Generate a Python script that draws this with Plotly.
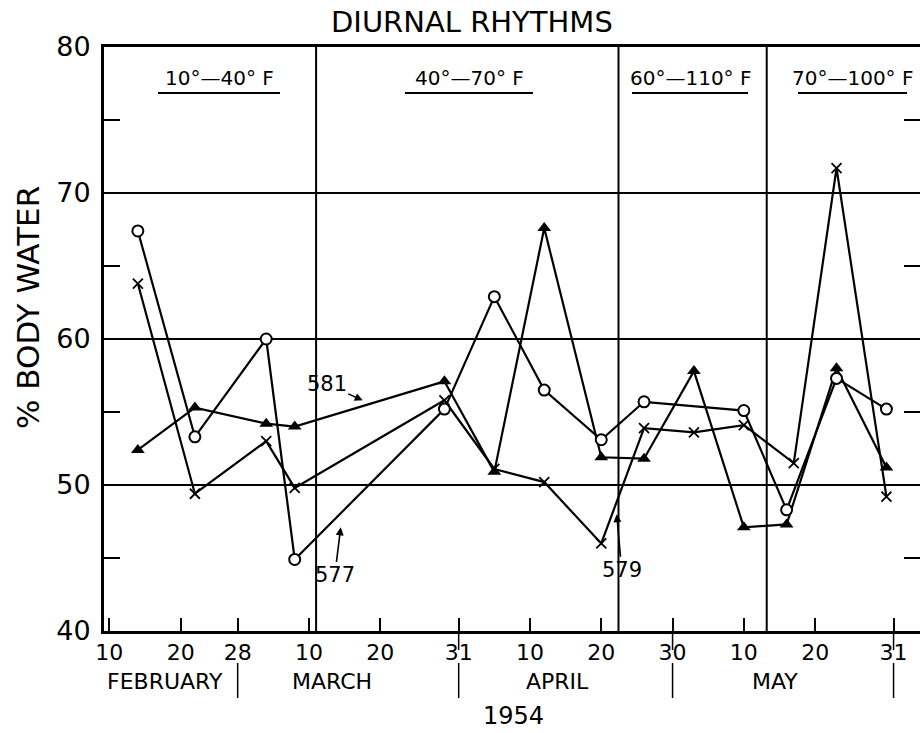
import plotly.graph_objects as go

FONT = "DejaVu Sans"
INK = "black"

# ---- data: % body water per animal, by sampling date (1954) ----
dates_577 = ["1954-02-14", "1954-02-22", "1954-03-04", "1954-03-08", "1954-03-29",
             "1954-04-05", "1954-04-12", "1954-04-20", "1954-04-26", "1954-05-10",
             "1954-05-16", "1954-05-23", "1954-05-30"]
water_577 = [67.4, 53.3, 60.0, 44.9, 55.2, 62.9, 56.5, 53.1, 55.7, 55.1, 48.3, 57.3, 55.2]

dates_581 = ["1954-02-14", "1954-02-22", "1954-03-04", "1954-03-08", "1954-03-29",
             "1954-04-05", "1954-04-12", "1954-04-20", "1954-04-26", "1954-05-03",
             "1954-05-10", "1954-05-16", "1954-05-23", "1954-05-30"]
water_581 = [52.4, 55.3, 54.2, 54.0, 57.1, 50.9, 67.6, 51.9, 51.8, 57.8, 47.1, 47.3, 58.0, 51.2]

dates_579 = ["1954-02-14", "1954-02-22", "1954-03-04", "1954-03-08", "1954-03-29",
             "1954-04-05", "1954-04-12", "1954-04-20", "1954-04-26", "1954-05-03",
             "1954-05-10", "1954-05-17", "1954-05-23", "1954-05-30"]
water_579 = [63.8, 49.4, 53.0, 49.8, 55.8, 51.1, 50.2, 46.0, 53.9, 53.6, 54.1, 51.5, 71.7, 49.2]

# ---- axis ticks ----
x_tick_dates = ["1954-02-10", "1954-02-20", "1954-02-28", "1954-03-10", "1954-03-20",
                "1954-03-31", "1954-04-10", "1954-04-20", "1954-04-30", "1954-05-10",
                "1954-05-20", "1954-05-31"]
x_tick_text = ["10", "20", "28", "10", "20", "31", "10", "20", "30", "10", "20", "31"]
month_ends = ["1954-02-28", "1954-03-31", "1954-04-30", "1954-05-31"]
months = ["FEBRUARY", "MARCH", "APRIL", "MAY"]
y_ticks = [40, 50, 60, 70, 80]
y_minor = [45, 55, 65, 75]

# temperature regimes
period_bounds = ["1954-03-11", "1954-04-22 10:00", "1954-05-13 05:00"]
period_labels = ["10°—40° F", "40°—70° F", "60°—110° F", "70°—100° F"]

W, H = 920, 733
L, R, T, B = 104, 0, 47, 102
PW, PH = W - L - R, H - T - B


def px(x):
    return (x - L) / PW


def py(y):
    return (H - B - y) / PH


fig = go.Figure()

line = dict(color=INK, width=2.2)
fig.add_trace(go.Scatter(x=dates_579, y=water_579, mode="lines+markers", line=line,
                         marker=dict(symbol="x-thin-open", size=10,
                                     line=dict(color=INK, width=1.8)),
                         name="579"))
fig.add_trace(go.Scatter(x=dates_581, y=water_581, mode="lines+markers", line=line,
                         marker=dict(symbol="triangle-up", size=12, color=INK),
                         name="581"))
fig.add_trace(go.Scatter(x=dates_577, y=water_577, mode="lines+markers", line=line,
                         marker=dict(symbol="circle", size=11, color="white",
                                     line=dict(color=INK, width=2)),
                         name="577"))

shapes = []
# regime boundaries
for d in period_bounds:
    shapes.append(dict(type="line", xref="x", yref="paper", x0=d, x1=d, y0=0, y1=1,
                       line=dict(color=INK, width=2)))
# month separators under the date labels
for d in month_ends:
    shapes.append(dict(type="line", xref="x", yref="paper", x0=d, x1=d,
                       y0=py(663), y1=py(698), line=dict(color=INK, width=1.5)))
for d in ["1954-03-31", "1954-04-30", "1954-05-31"]:
    shapes.append(dict(type="line", xref="x", yref="paper", x0=d, x1=d,
                       y0=py(631), y1=py(650), line=dict(color=INK, width=1.5)))
# minor ticks on the right-hand frame
for v in y_minor:
    shapes.append(dict(type="line", xref="paper", yref="y", x0=px(904), x1=1.0,
                       y0=v, y1=v, line=dict(color=INK, width=2)))
# underlines of the regime labels
underlines = [(158, 280), (405, 533), (632, 748), (798, 907)]
for a, b in underlines:
    shapes.append(dict(type="line", xref="paper", yref="paper", x0=px(a), x1=px(b),
                       y0=py(93), y1=py(93), line=dict(color=INK, width=2)))

annotations = []
label_centers = [219, 469, 690, 852]
for cx, txt in zip(label_centers, period_labels):
    annotations.append(dict(text=txt, xref="paper", yref="paper", x=px(cx), y=py(78),
                            showarrow=False, xanchor="center", yanchor="middle",
                            font=dict(family=FONT, size=20, color=INK)))

month_centers = [165, 332, 557, 775]
for cx, m in zip(month_centers, months):
    annotations.append(dict(text=m, xref="paper", yref="paper", x=px(cx), y=py(681),
                            showarrow=False, xanchor="center", yanchor="middle",
                            font=dict(family=FONT, size=22, color=INK)))

annotations.append(dict(text="1954", xref="paper", yref="paper", x=px(513), y=py(716),
                        showarrow=False, xanchor="center", yanchor="middle",
                        font=dict(family=FONT, size=24, color=INK)))
annotations.append(dict(text="DIURNAL RHYTHMS", xref="paper", yref="paper", x=px(472),
                        y=py(22), showarrow=False, xanchor="center", yanchor="middle",
                        font=dict(family=FONT, size=29, color=INK)))
annotations.append(dict(text="% BODY WATER", xref="paper", yref="paper", x=px(28),
                        y=py(308), showarrow=False, textangle=-90, xanchor="center",
                        yanchor="middle", font=dict(family=FONT, size=31, color=INK)))

# animal identifiers with pointers
arrow_font = dict(family=FONT, size=21, color=INK)
annotations.append(dict(text="581", x="1954-03-17 13:00", y=55.8, ax=-36, ay=-16,
                        showarrow=True, arrowhead=2, arrowsize=1, arrowwidth=1.6,
                        arrowcolor=INK, font=arrow_font))
annotations.append(dict(text="577", x="1954-03-14 11:00", y=47.1, ax=-6, ay=48,
                        showarrow=True, arrowhead=2, arrowsize=1, arrowwidth=1.6,
                        arrowcolor=INK, font=arrow_font))
annotations.append(dict(text="579", x="1954-04-22 04:00", y=48.0, ax=5, ay=56,
                        showarrow=True, arrowhead=2, arrowsize=1, arrowwidth=1.6,
                        arrowcolor=INK, font=arrow_font))

fig.update_layout(
    width=W, height=H,
    margin=dict(l=L, r=R, t=T, b=B, pad=0),
    paper_bgcolor="white", plot_bgcolor="white",
    showlegend=False,
    font=dict(family=FONT, color=INK),
    shapes=shapes,
    annotations=annotations,
    xaxis=dict(
        type="date",
        range=["1954-02-09 06:00", "1954-06-03 17:00"],
        tickmode="array", tickvals=x_tick_dates, ticktext=x_tick_text,
        ticks="inside", ticklen=13, tickwidth=2, tickcolor=INK,
        tickfont=dict(family=FONT, size=22, color=INK),
        showgrid=False, zeroline=False,
        showline=True, linewidth=3, linecolor=INK, mirror=True,
    ),
    yaxis=dict(
        range=[40, 80],
        tickmode="array", tickvals=y_ticks, ticktext=[str(v) for v in y_ticks],
        ticks="", tickfont=dict(family=FONT, size=27, color=INK),
        ticklabelstandoff=5,
        showgrid=True, gridcolor=INK, gridwidth=2,
        minor=dict(tickmode="array", tickvals=y_minor, ticks="inside", ticklen=16,
                   tickwidth=2, tickcolor=INK, showgrid=False),
        zeroline=False,
        showline=True, linewidth=3, linecolor=INK, mirror=False,
    ),
)

fig.write_html("out.html")
